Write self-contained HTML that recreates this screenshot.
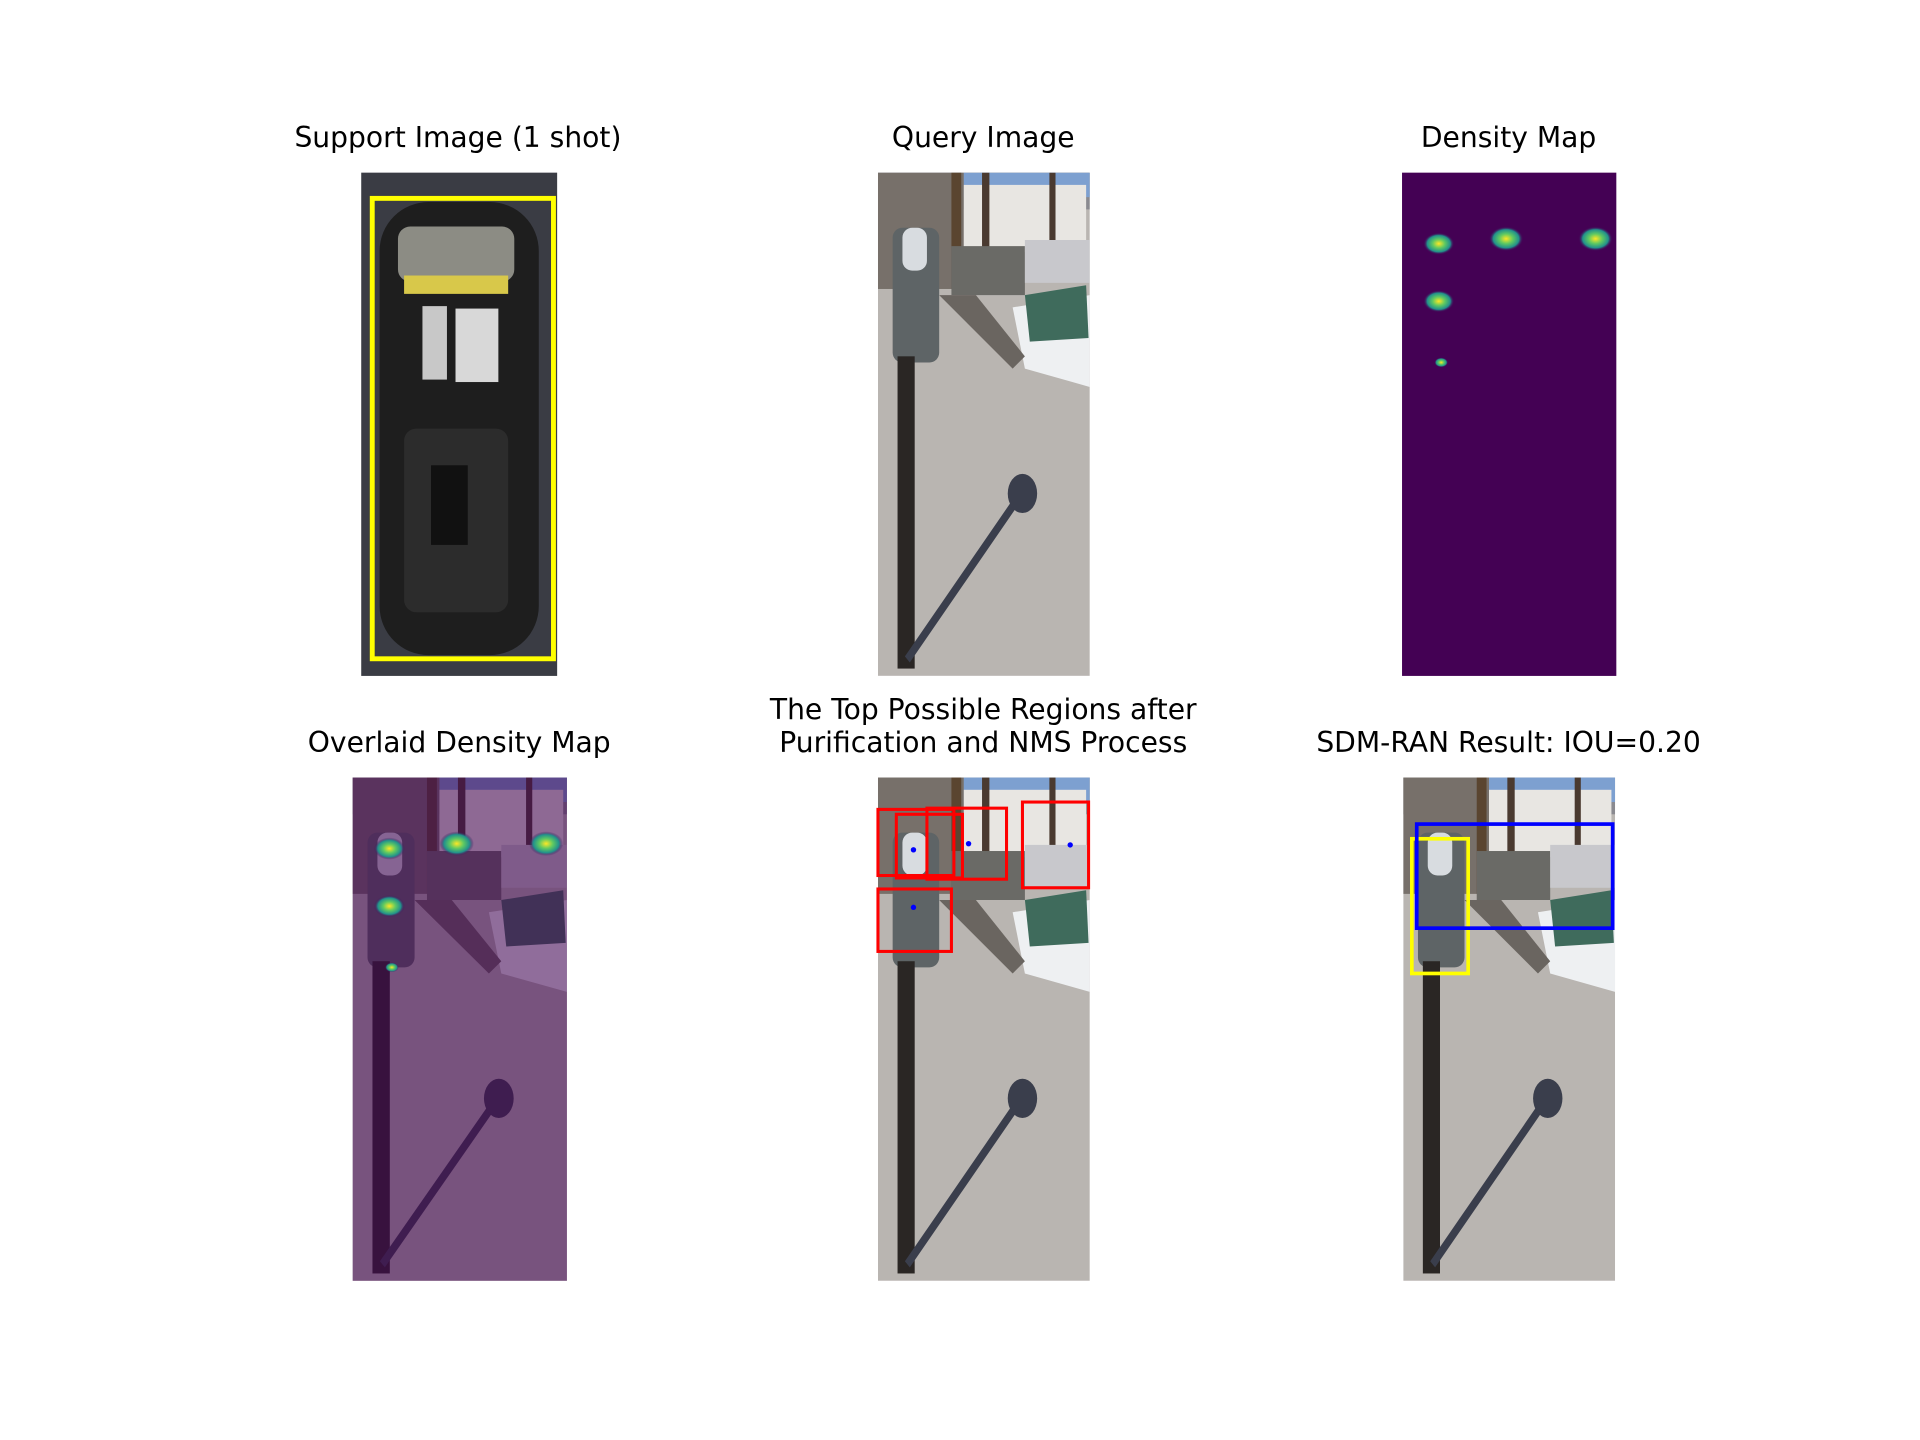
<!DOCTYPE html>
<html><head><meta charset="utf-8"><style>html,body{margin:0;padding:0;background:#fff}svg{display:block}</style></head>
<body>
<svg width="1920" height="1440" viewBox="0 0 1568 1176" xmlns="http://www.w3.org/2000/svg" font-family="'DejaVu Sans','Liberation Sans',sans-serif">
<defs>
<symbol id="scene" viewBox="0 0 173 411" preserveAspectRatio="none">
<rect width="173" height="411" fill="#b9b5b1"/>
<rect width="173" height="30" fill="#8a8a90"/>
<rect x="70" y="0" width="103" height="20" fill="#7da0d0"/>
<rect x="70" y="10" width="100" height="55" fill="#e8e6e2"/>
<rect x="0" y="0" width="70" height="95" fill="#77706a"/>
<rect x="60" y="0" width="8" height="95" fill="#5a4530"/>
<rect x="85" y="0" width="6" height="70" fill="#4a3a30"/>
<rect x="140" y="0" width="5" height="80" fill="#4a3a30"/>
<rect x="60" y="60" width="60" height="40" fill="#6a6a66"/>
<rect x="120" y="55" width="53" height="35" fill="#c8c8cc"/>
<polygon points="110,110 173,100 173,175 120,160" fill="#eef0f2"/>
<polygon points="120,100 170,92 172,135 124,138" fill="#3f6b5c"/>
<polygon points="50,100 80,100 120,150 110,160" fill="#6a6560"/>
<rect x="12" y="45" width="38" height="110" rx="8" fill="#5e6466"/>
<rect x="20" y="45" width="20" height="35" rx="8" fill="#d8dce0"/>
<rect x="16" y="150" width="14" height="255" fill="#2a2624"/>
<polygon points="22,395 26,400 112,275 108,270" fill="#3a3e4c"/>
<ellipse cx="118" cy="262" rx="12" ry="16" fill="#3a3e4c"/>
</symbol>
<radialGradient id="blob"><stop offset="0" stop-color="#fde725"/><stop offset="0.4" stop-color="#5ec962"/><stop offset="0.75" stop-color="#21918c"/><stop offset="1" stop-color="#440154" stop-opacity="0"/></radialGradient>
</defs>
<g font-size="23" text-anchor="middle" fill="#000">
<text x="374" y="120">Support Image (1 shot)</text>
<text x="803" y="120">Query Image</text>
<text x="1232" y="120">Density Map</text>
<text x="375" y="614">Overlaid Density Map</text>
<text x="803" y="587">The Top Possible Regions after</text>
<text x="803" y="614">Purification and NMS Process</text>
<text x="1232" y="614">SDM-RAN Result: IOU=0.20</text>
</g>
<g>
<rect x="295" y="141" width="160" height="411" fill="#3a3c44"/>
<rect x="310" y="165" width="130" height="370" rx="40" fill="#1e1e1e"/>
<rect x="325" y="185" width="95" height="45" rx="10" fill="#8c8c84"/>
<rect x="330" y="225" width="85" height="15" fill="#d8c84a"/>
<rect x="345" y="250" width="20" height="60" fill="#c8c8c8"/>
<rect x="372" y="252" width="35" height="60" fill="#d8d8d8"/>
<rect x="330" y="350" width="85" height="150" rx="10" fill="#2c2c2c"/>
<rect x="352" y="380" width="30" height="65" fill="#111"/>
<rect x="304" y="162" width="148" height="376" fill="none" stroke="#ffff00" stroke-width="4"/>
</g>
<use href="#scene" x="717" y="141" width="173" height="411"/>
<g id="dens">
<rect x="1145" y="141" width="175" height="411" fill="#440154"/>
</g>
<g>
<use href="#scene" x="288" y="635" width="175" height="411"/>
<rect x="288" y="635" width="175" height="411" fill="#440154" opacity="0.55"/>
<g id="ovl"></g>
</g>
<g id="regions">
<use href="#scene" x="717" y="635" width="173" height="411"/>
</g>
<g id="result">
<use href="#scene" x="1146" y="635" width="173" height="411"/>
</g>
</svg>
<script>
const blobX=[30,85,158,30,32];
const blobY=[58,54,54,105,155];
const blobR=[9,10,10,9,4];
const regX0=[0,15,40,118,0];
const regY0=[26,30,25,20,91];
const regX1=[62,69,105,172,60];
const regY1=[80,82,83,90,142];
const dotX=[29,74,157,29];
const dotY=[59,54,55,106];
const gtBox=[7,50,53,160];
const predBox=[11,38,171,123];
const NS='http://www.w3.org/2000/svg';
function mk(t,a,p){const e=document.createElementNS(NS,t);for(const k in a)e.setAttribute(k,a[k]);p.appendChild(e);return e;}
const dens=document.getElementById('dens'),ovl=document.getElementById('ovl');
for(let i=0;i<blobX.length;i++){
 let e=mk('ellipse',{cx:1145+blobX[i],cy:141+blobY[i],rx:blobR[i]*1.4,ry:blobR[i],fill:'url(#blob)'},dens);
 
 
 let o=mk('ellipse',{cx:288+blobX[i],cy:635+blobY[i],rx:blobR[i]*1.4,ry:blobR[i],fill:'url(#blob)'},ovl);
 
 
}
const reg=document.getElementById('regions');
for(let i=0;i<regX0.length;i++){
 let r=mk('rect',{x:717+regX0[i],y:635+regY0[i],width:regX1[i]-regX0[i],height:regY1[i]-regY0[i],fill:'none',stroke:'#ff0000','stroke-width':2.5},reg);
 
 
}
for(let i=0;i<dotX.length;i++){
 let d=mk('circle',{cx:717+dotX[i],cy:635+dotY[i],r:2.2,fill:'#0000ff'},reg);
 
 
}
const res=document.getElementById('result');
let g=mk('rect',{x:1146+gtBox[0],y:635+gtBox[1],width:gtBox[2]-gtBox[0],height:gtBox[3]-gtBox[1],fill:'none',stroke:'#ffff00','stroke-width':3},res);


let p=mk('rect',{x:1146+predBox[0],y:635+predBox[1],width:predBox[2]-predBox[0],height:predBox[3]-predBox[1],fill:'none',stroke:'#0000ff','stroke-width':3},res);


</script>
</body></html>
